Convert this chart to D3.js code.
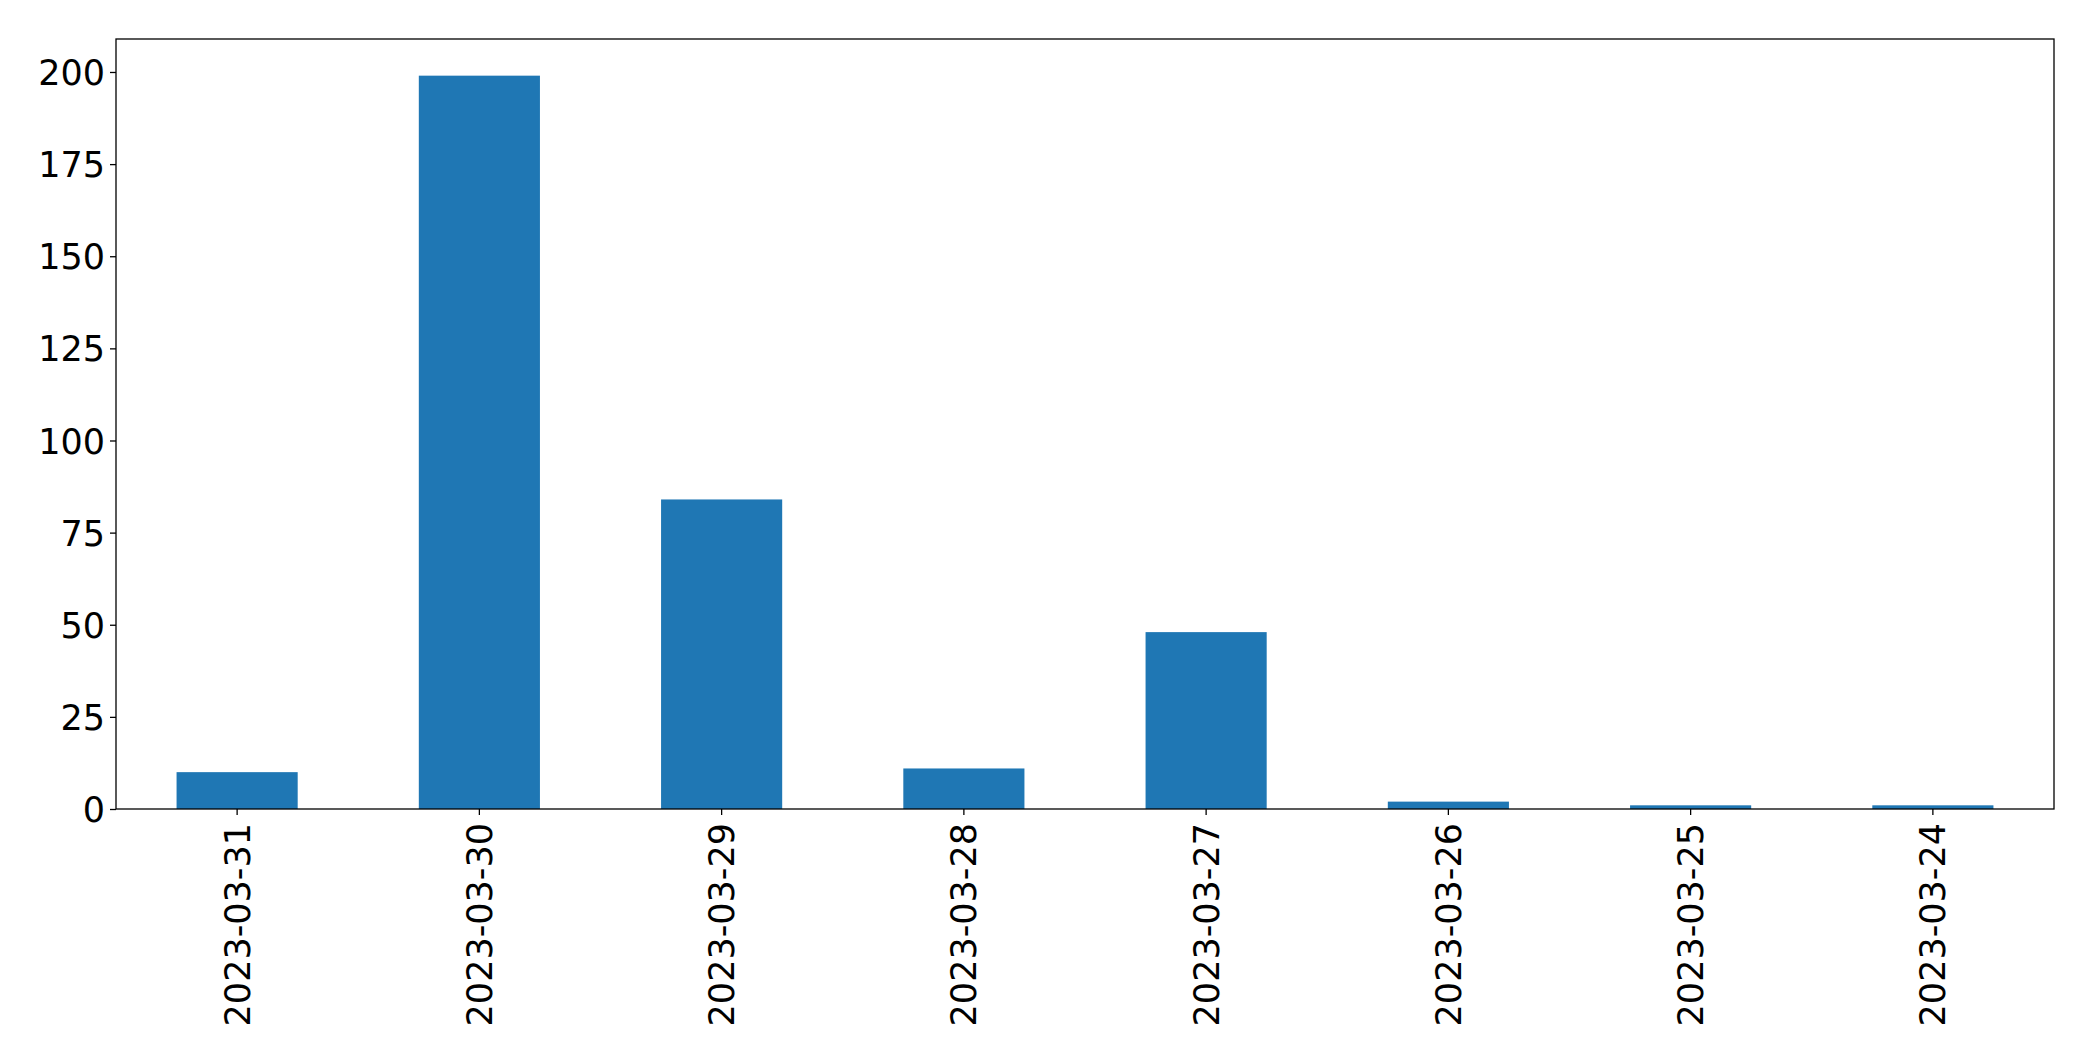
<!DOCTYPE html>
<html>
<head>
<meta charset="utf-8">
<script src="https://cdn.jsdelivr.net/npm/d3@7"></script>
<style>
  html, body { margin: 0; padding: 0; background: #fff; }
  svg { display: block; }
  text { font-family: "DejaVu Sans", sans-serif; }
</style>
</head>
<body>
<script>
const categories = ["2023-03-31", "2023-03-30", "2023-03-29", "2023-03-28", "2023-03-27", "2023-03-26", "2023-03-25", "2023-03-24"];
const values = [10, 199, 84, 11, 48, 2, 1, 1];
const yTicks = [0, 25, 50, 75, 100, 125, 150, 175, 200];

const W = 2093, H = 1061;
const margin = {left: 116, right: W - 2054, top: 39, bottom: H - 809};
const iw = W - margin.left - margin.right;
const ih = H - margin.top - margin.bottom;

const svg = d3.select("body").append("svg").attr("width", W).attr("height", H);
const g = svg.append("g").attr("transform", `translate(${margin.left},${margin.top})`);

const x = d3.scaleBand().domain(categories).range([0, iw]).paddingInner(0.5).paddingOuter(0.25);
const y = d3.scaleLinear().domain([0, d3.max(values) * 1.05]).range([ih, 0]);

g.selectAll("rect.bar").data(values).enter().append("rect")
  .attr("class", "bar")
  .attr("x", (d, i) => x(categories[i]))
  .attr("width", x.bandwidth())
  .attr("y", d => y(d))
  .attr("height", d => y(0) - y(d))
  .attr("fill", "#1f77b4");

const fs = "35px";

const yAxis = g.append("g").call(d3.axisLeft(y).tickValues(yTicks).tickSize(6).tickPadding(5).tickFormat(d3.format("d")));
yAxis.select(".domain").remove();
yAxis.selectAll("text").style("font-size", fs).attr("fill", "#000").attr("dy", "0.36em");
yAxis.selectAll("line").attr("stroke", "#000").attr("stroke-width", 1.3);

const xAxis = g.append("g").attr("transform", `translate(0,${ih})`)
  .call(d3.axisBottom(x).tickSize(6).tickPadding(8));
xAxis.select(".domain").remove();
xAxis.selectAll("line").attr("stroke", "#000").attr("stroke-width", 1.3);
xAxis.selectAll("text")
  .style("font-size", fs).attr("fill", "#000")
  .attr("transform", "rotate(-90)")
  .attr("text-anchor", "end")
  .attr("x", -14)
  .attr("y", 0)
  .attr("dy", "0.36em");

g.append("rect").attr("x", 0).attr("y", 0).attr("width", iw).attr("height", ih)
  .attr("fill", "none").attr("stroke", "#000").attr("stroke-width", 1.3);
</script>
</body>
</html>
